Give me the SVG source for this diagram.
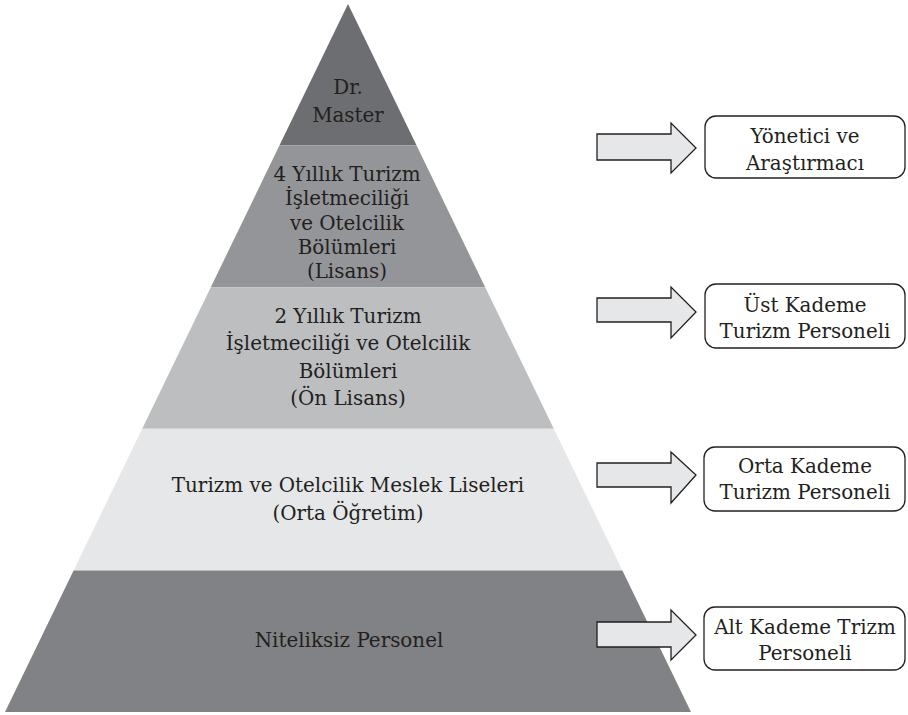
<svg xmlns="http://www.w3.org/2000/svg" width="908" height="715" viewBox="0 0 908 715">
<style>
text{font-family:"DejaVu Serif","Liberation Serif",serif;font-size:19.9px;fill:#231f20;text-anchor:middle}
.arrow{fill:#e6e7e8;stroke:#231f20;stroke-width:1.3;stroke-linejoin:miter}
.box{fill:#ffffff;stroke:#231f20;stroke-width:1.3}
</style>
<rect width="908" height="715" fill="#ffffff"/>
<g id="band-doktora">
<polygon points="348,4 416.6,145.6 279.4,145.6" fill="#6d6e71"/>
<text x="348" y="94">Dr.</text>
<text x="348" y="122">Master</text>
</g>
<g id="band-lisans">
<polygon points="279.4,145.6 416.6,145.6 485.2,287.2 210.8,287.2" fill="#939598"/>
<text x="347" y="181">4 Yıllık Turizm</text>
<text x="347" y="205">İşletmeciliği</text>
<text x="347" y="229.5">ve Otelcilik</text>
<text x="347" y="254">Bölümleri</text>
<text x="347" y="278">(Lisans)</text>
</g>
<g id="band-onlisans">
<polygon points="210.8,287.2 485.2,287.2 553.8,428.8 142.2,428.8" fill="#bcbec0"/>
<text x="348" y="323">2 Yıllık Turizm</text>
<text x="348" y="350">İşletmeciliği ve Otelcilik</text>
<text x="348" y="378">Bölümleri</text>
<text x="348" y="405">(Ön Lisans)</text>
</g>
<g id="band-ortaogretim">
<polygon points="142.2,428.8 553.8,428.8 622.4,570.4 73.6,570.4" fill="#e6e7e8"/>
<text x="348" y="492">Turizm ve Otelcilik Meslek Liseleri</text>
<text x="348" y="520">(Orta Öğretim)</text>
</g>
<g id="band-niteliksiz">
<polygon points="73.6,570.4 622.4,570.4 691,712 5,712" fill="#808285"/>
<text x="349" y="647">Niteliksiz Personel</text>
</g>
<g id="connectors">
<polygon class="arrow" points="597,134 671,134 671,123 696,148 671,173 671,160 597,160"/>
<polygon class="arrow" points="597,298 671,298 671,287 696,312 671,338 671,322 597,322"/>
<polygon class="arrow" points="597,463 671,463 671,452 696,475 671,503 671,487 597,487"/>
<polygon class="arrow" points="597,622 671,622 671,610 696,635 671,660 671,647 597,647"/>
</g>
<g id="box-yonetici">
<rect class="box" x="705" y="116" width="200" height="62" rx="11"/>
<text x="805" y="143">Yönetici ve</text>
<text x="805" y="170">Araştırmacı</text>
</g>
<g id="box-ust">
<rect class="box" x="705" y="284" width="200" height="64" rx="11"/>
<text x="805" y="312">Üst Kademe</text>
<text x="805" y="338">Turizm Personeli</text>
</g>
<g id="box-orta">
<rect class="box" x="704" y="447" width="201" height="64" rx="11"/>
<text x="805" y="473">Orta Kademe</text>
<text x="805" y="499">Turizm Personeli</text>
</g>
<g id="box-alt">
<rect class="box" x="704" y="607" width="201" height="63" rx="11"/>
<text x="805" y="634">Alt Kademe Trizm</text>
<text x="805" y="660">Personeli</text>
</g>
</svg>
